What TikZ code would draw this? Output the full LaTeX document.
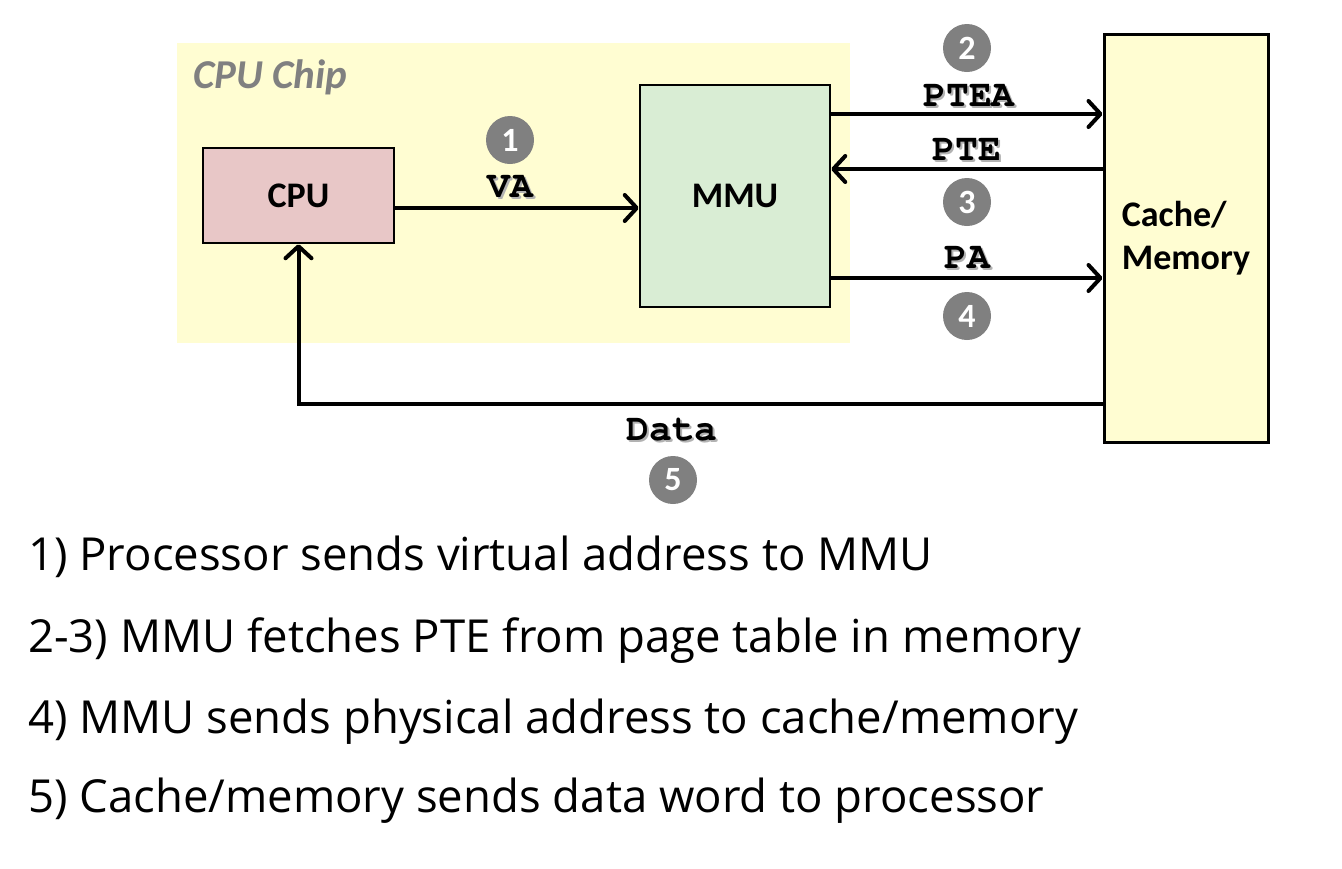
\documentclass[tikz,border=0pt]{standalone}
\usepackage{fontspec}
\setmainfont{Carlito}
\newfontfamily\monof{TeX Gyre Cursor}
\newfontfamily\listf{Open Sans}
\usetikzlibrary{arrows.meta}
\definecolor{chipy}{RGB}{255,253,210}
\definecolor{cpuf}{RGB}{232,199,199}
\definecolor{mmuf}{RGB}{217,237,212}
\definecolor{stepg}{RGB}{128,128,128}
\newcommand\shtext[1]{\rlap{\textcolor{black!30}{\hspace{2pt}\raisebox{-2pt}{#1}}}#1}
\tikzset{
  box/.style={draw=black, line width=2.5pt, inner sep=0pt, font=\fontsize{36}{43}\selectfont\bfseries},
  arr/.style={line width=4pt, -{Straight Barb[length=12pt,width=26pt,line width=4pt,round]}},
  sig/.style={font=\monof\fontsize{38}{38}\selectfont\bfseries, anchor=base, inner sep=0pt},
  stepc/.style={circle, fill=stepg, minimum size=48pt, inner sep=0pt, text=white, font=\fontsize{34}{34}\selectfont\bfseries},
  listline/.style={anchor=base west, inner sep=0pt, font=\listf\fontsize{45.5}{45.5}\selectfont}
}
\begin{document}
\begin{tikzpicture}[x=1pt,y=-1pt]
\useasboundingbox (0,0) rectangle (1342,868);
\fill[white] (0,0) rectangle (1342,868);
% chip background
\node[fill=chipy, minimum width=673pt, minimum height=300pt, inner sep=0pt] (chip) at (513.5,193) {};
\node[anchor=base west, inner sep=0pt, text=stepg, font=\fontsize{41}{41}\selectfont\bfseries\itshape] (chiplbl) at (193,88) {CPU Chip};
% boxes
\node[box, fill=cpuf, minimum width=191pt, minimum height=95pt] (cpu) at (298.5,195.5) {CPU};
\node[box, fill=mmuf, minimum width=190pt, minimum height=222pt] (mmu) at (735,196) {MMU};
\node[box, line width=3pt, fill=chipy, minimum width=164pt, minimum height=408pt, align=left] (mem) at (1186,238) {Cache/\\Memory};
% arrows
\draw[arr] (cpu.east |- 0,208) -- (mmu.west |- 0,208);
\draw[arr] (mmu.east |- 0,114) -- (mem.west |- 0,114);
\draw[arr] (mem.west |- 0,169) -- (mmu.east |- 0,169);
\draw[arr] (mmu.east |- 0,278) -- (mem.west |- 0,278);
\draw[arr] (mem.west |- 0,404) -| (cpu.south);
% signal labels
\node[sig] (va) at (510,197) {\shtext{VA}};
\node[sig] (ptea) at (969,106) {\shtext{PTEA}};
\node[sig] (pte) at (967,160) {\shtext{PTE}};
\node[sig] (pa) at (967,268) {\shtext{PA}};
\node[sig] (data) at (672,440) {\shtext{Data}};
% step circles
\node[stepc] (s1) at (510,140) {1};
\node[stepc] (s2) at (967,48) {2};
\node[stepc] (s3) at (967,202) {3};
\node[stepc] (s4) at (967,316) {4};
\node[stepc] (s5) at (673,480) {5};
% list
\node[listline] (l1) at (28,570) {1) Processor sends virtual address to MMU};
\node[listline] (l2) at (28,652) {2-3) MMU fetches PTE from page table in memory};
\node[listline] (l3) at (28,733) {4) MMU sends physical address to cache/memory};
\node[listline] (l4) at (28,812) {5) Cache/memory sends data word to processor};
\end{tikzpicture}
\end{document}
